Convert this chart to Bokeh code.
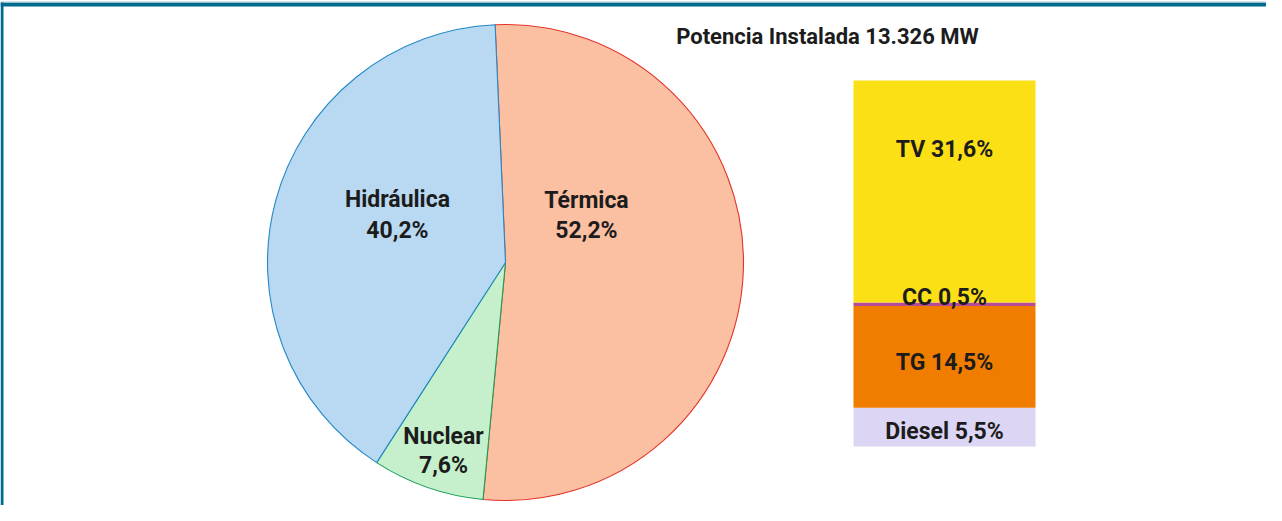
import math
from bokeh.plotting import figure
from bokeh.models import Range1d, ColumnDataSource
from bokeh.core.properties import value
from bokeh.embed import file_html
from bokeh.resources import INLINE

# ---------------- data ----------------
title_text = "Potencia Instalada 13.326 MW"
pie_names = ["Térmica", "Nuclear", "Hidráulica"]
pie_values = [52.2, 7.6, 40.2]
bar_names = ["Diesel", "TG", "CC", "TV"]
bar_values = [5.5, 14.5, 0.5, 31.6]

# ---------------- styles / layout ----------------
pie_fill = ["#fbbfa2", "#c5f0cb", "#b9d9f2"]
pie_line = ["#e3342a", "#1a9e55", "#2388c6"]
bar_fill = ["#dcd6f4", "#f07c00", "#b84a9a", "#fce016"]
txt_col = "#1c1c1c"
FONT = "Roboto"

W, H = 1266, 505
PAGE_TOP = 8
def X(px):
    return px - 8
def Y(py):
    return (PAGE_TOP + H) - py

cx, cy, r = X(513), Y(270), 238
start_deg = 92.5

bar_left_px, bar_right_px = 861, 1043
bar_bottom_px, bar_top_px = 454, 88

p = figure(width=W, height=H, output_backend="svg", toolbar_location=None,
           x_range=Range1d(0, W), y_range=Range1d(0, H),
           min_border=0, min_border_left=0, min_border_right=0,
           min_border_top=0, min_border_bottom=0)
p.axis.visible = False
p.grid.visible = False
p.outline_line_color = None
p.background_fill_color = "white"
p.border_fill_color = "white"

# border (top and left)
p.quad(left=[0], right=[W], top=[Y(10)], bottom=[Y(14)], fill_color="#006b8f", line_color=None)
p.quad(left=[0], right=[W], top=[Y(9)], bottom=[Y(10)], fill_color="#a9c9d6", line_color=None)
p.quad(left=[0], right=[3], top=[Y(10)], bottom=[0], fill_color="#006b8f", line_color=None)

# pie
total = sum(pie_values)
starts, ends = [], []
cum = 0.0
for v in pie_values:
    a_end = math.radians(start_deg - cum / total * 360.0)
    cum += v
    a_start = math.radians(start_deg - cum / total * 360.0)
    starts.append(a_start)
    ends.append(a_end)
src = ColumnDataSource(dict(start=starts, end=ends, fill=pie_fill, line=pie_line))
p.wedge(x=cx, y=cy, radius=r, start_angle="start", end_angle="end",
        fill_color="fill", line_color="line", line_width=1.1, source=src)

def fmt(v):
    return f"{v:.1f}".replace(".", ",") + "%"

# pie labels (positions are layout)
pie_label_pos = {"Térmica": (594, 208, 238), "Nuclear": (451, 444, 473), "Hidráulica": (405, 207, 238)}
lx, ly, ltext = [], [], []
for n, v in zip(pie_names, pie_values):
    px, py1, py2 = pie_label_pos[n]
    lx += [X(px), X(px)]
    ly += [Y(py1), Y(py2)]
    ltext += [n, fmt(v)]
p.text(x=lx, y=ly, text=ltext, text_align="center", text_baseline="middle",
       text_font=value(FONT), text_font_style="bold", text_font_size="23px", text_color=txt_col)

# stacked bar on its own percent scale
btotal = sum(bar_values)
scale = (bar_bottom_px - bar_top_px) / btotal
p.extra_y_ranges = {"pct": Range1d(-(PAGE_TOP + H - bar_bottom_px) / scale,
                                   (bar_bottom_px - PAGE_TOP) / scale)}
bottoms, tops = [], []
c = 0.0
for v in bar_values:
    bottoms.append(c)
    c += v
    tops.append(c)
bsrc = ColumnDataSource(dict(x=[X((bar_left_px + bar_right_px) / 2)] * len(bar_values),
                             bottom=bottoms, top=tops, fill=bar_fill))
p.vbar(x="x", width=bar_right_px - bar_left_px, bottom="bottom", top="top",
       fill_color="fill", line_color=None, y_range_name="pct", source=bsrc)

bar_label_py = {"Diesel": 439, "TG": 370, "CC": 305, "TV": 157}
bx = [X((bar_left_px + bar_right_px) / 2)] * len(bar_names)
by = [Y(bar_label_py[n]) for n in bar_names]
bt = [f"{n} {fmt(v)}" for n, v in zip(bar_names, bar_values)]
p.text(x=bx, y=by, text=bt, text_align="center", text_baseline="middle",
       text_font=value(FONT), text_font_style="bold", text_font_size="23px", text_color=txt_col)

# title
p.text(x=[X(835)], y=[Y(44)], text=[title_text], text_align="center", text_baseline="middle",
       text_font=value(FONT), text_font_style="bold", text_font_size="22px", text_color=txt_col)

open("out.html", "w").write(file_html(p, INLINE))
